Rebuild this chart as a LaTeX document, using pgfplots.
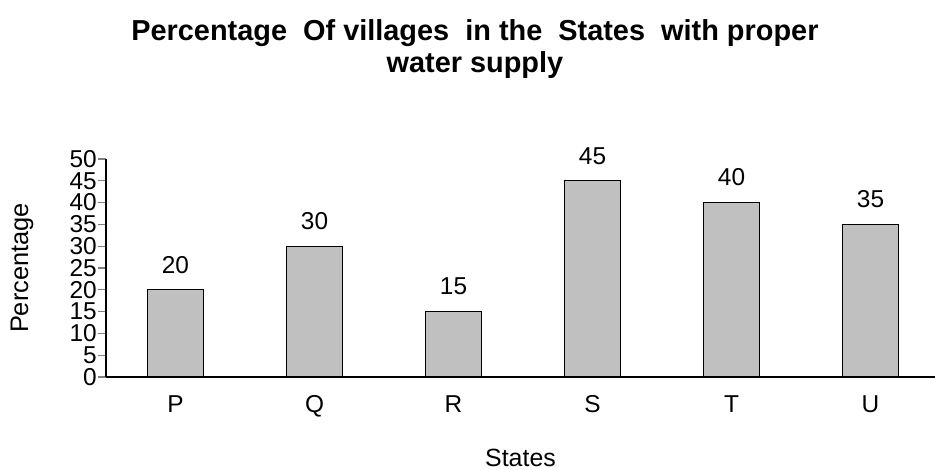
\documentclass[border=0pt]{standalone}
\usepackage{fontspec}
\setmainfont{Liberation Sans}
\usepackage{pgfplots}
\pgfplotsset{compat=1.18}
\definecolor{bargray}{RGB}{192,192,192}
\begin{document}
\begin{tikzpicture}[x=1bp,y=1bp]
\useasboundingbox (0,0) rectangle (935,470);
\begin{axis}[
  at={(106bp,93bp)}, anchor=south west,
  scale only axis, width=829bp, height=218bp,
  xmin=-0.5, xmax=5.464, ymin=0, ymax=50,
  axis x line=bottom, axis y line=left,
  axis line style={-, line width=1.1bp},
  xtick={0,1,2,3,4,5},
  xticklabels={P,Q,R,S,T,U},
  x tick style={draw=none},
  extra x ticks={-0.5,0.5,1.5,2.5,3.5,4.5},
  extra x tick labels={},
  extra x tick style={tick align=outside, major tick length=8bp, tick style={draw=black, line width=1.1bp}},
  ytick={0,5,...,50},
  y tick style={line width=1.1bp},
  tick align=outside, major tick length=8bp,
  /pgf/number format/assume math mode=true,
  ticklabel style={font=\fontsize{24.5}{24.5}\selectfont},
  yticklabel style={inner sep=1bp},
  xticklabel style={yshift=-7bp},
  xlabel={States}, ylabel={Percentage},
  xlabel style={font=\fontsize{25}{25}\selectfont, at={(axis description cs:0.5,-0.3716)}, anchor=center},
  ylabel style={font=\fontsize{25.5}{25.5}\selectfont, at={(axis description cs:-0.1013,0.5)}, anchor=center},
  title={Percentage\ \ Of villages\ \ in the\ \ States\ \ with proper\\water supply},
  title style={font=\bfseries\fontsize{29}{32}\selectfont, align=center, at={(axis description cs:0.445,1.477)}, anchor=center},
  nodes near coords,
  every node near coord/.append style={font=\fontsize{24.5}{24.5}\selectfont, anchor=south, inner sep=0pt, yshift=16bp},
  clip=false,
]
\addplot[ybar, bar width=0.4, fill=bargray, draw=black, line width=1.1bp] coordinates {
  (0,20) (1,30) (2,15) (3,45) (4,40) (5,35)
};
\end{axis}
\end{tikzpicture}
\end{document}
